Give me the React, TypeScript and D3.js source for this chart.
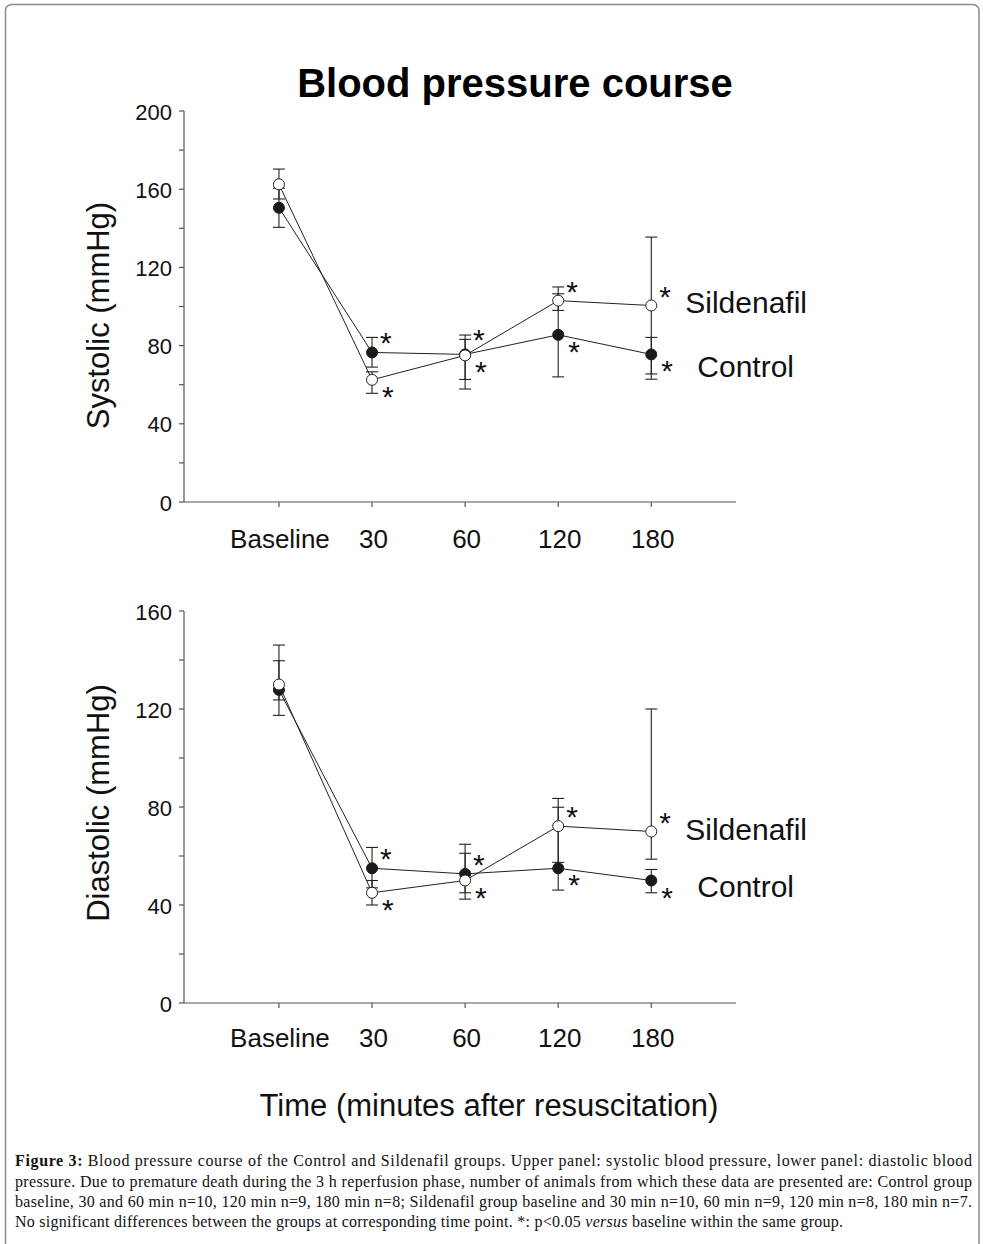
import React from 'react';
import * as d3 from 'd3';

const categories = ['Baseline', '30', '60', '120', '180'];

// systolic (mmHg): means and whisker ends
const sysControl = [150.5, 76.5, 75.5, 85.5, 75.5];
const sysControlHigh = [160.5, 84.2, 85.4, 106.5, 84.2];
const sysControlLow = [140.5, 69, 62.7, 64, 62.8];
const sysSild = [162.5, 62.5, 75, 103, 100.5];
const sysSildHigh = [170.3, 66.6, 83.2, 110, 135.5];
const sysSildLow = [155, 55.6, 57.8, 98, 65.5];

// diastolic (mmHg)
const diaControl = [127.8, 55, 52.7, 55, 50];
const diaControlHigh = [139.7, 63.5, 64.8, 79.9, 54.5];
const diaControlLow = [117.4, 47, 42.4, 46.1, 45];
const diaSild = [130, 45, 50, 72.2, 70];
const diaSildHigh = [146.1, 50, 61.1, 83.5, 120];
const diaSildLow = [123.7, 40, 45, 57.4, 58.7];

const sysTicks = [0, 40, 80, 120, 160, 200];
const diaTicks = [0, 40, 80, 120, 160];

const captionLines = [
  'Blood pressure course of the Control and Sildenafil groups. Upper panel: systolic blood pressure, lower panel: diastolic blood',
  'pressure. Due to premature death during the 3 h reperfusion phase, number of animals from which these data are presented are: Control group',
  'baseline, 30 and 60 min n=10, 120 min n=9, 180 min n=8; Sildenafil group baseline and 30 min n=10, 60 min n=9, 120 min n=8, 180 min n=7.',
];

const SANS = '"Liberation Sans", Arial, Helvetica, sans-serif';
const SERIF = '"Liberation Serif", "Times New Roman", serif';
const INK = '#222';
const AXIS = '#555';

interface Series {
  mean: number[];
  high: number[];
  low: number[];
}

interface PanelProps {
  top: number;
  bottom: number;
  yMax: number;
  labelTicks: number[];
  title: string;
  titleDy: number;
  control: Series;
  sild: Series;
  tickLabelDy: number;
  sildLabelDy: number;
  controlLabelDy: number;
}

const Panel: React.FC<PanelProps> = ({
  top, bottom, yMax, labelTicks, title, titleDy, control, sild, tickLabelDy, sildLabelDy, controlLabelDy,
}) => {
  const left = 184;
  const right = 736;
  const x = d3.scaleLinear().domain([-1.02, 4.91]).range([left, right]);
  const y = d3.scaleLinear().domain([0, yMax]).range([bottom, top]);
  const minorTicks = d3.range(0, yMax + 1, 20);

  const line = d3
    .line<number>()
    .x((_, i) => x(i))
    .y((d) => y(d));

  const bars = (s: Series, key: string) =>
    s.mean.map((_, i) => (
      <g key={`${key}-${i}`} stroke={INK} strokeWidth={1.1}>
        <line x1={x(i)} x2={x(i)} y1={y(s.high[i])} y2={y(s.low[i])} />
        <line x1={x(i) - 6} x2={x(i) + 6} y1={y(s.high[i])} y2={y(s.high[i])} />
        <line x1={x(i) - 6} x2={x(i) + 6} y1={y(s.low[i])} y2={y(s.low[i])} />
      </g>
    ));

  // asterisk above for the higher group, below for the lower one (not at baseline)
  const stars = (s: Series, other: Series, key: string) =>
    s.mean.map((v, i) => {
      if (i === 0) return null;
      const above = v >= other.mean[i];
      const tie = Math.abs(v - other.mean[i]) < 1.5;
      const dy = above ? (tie ? -20 : -15) : 11;
      return (
        <text
          key={`${key}-star-${i}`}
          x={x(i) + (above ? 8 : 10)}
          y={y(v) + dy + 16}
          fontFamily={SANS}
          fontSize={30}
          fill="#111"
        >
          *
        </text>
      );
    });

  const last = categories.length - 1;

  return (
    <g>
      {/* axes */}
      <line x1={left} x2={left} y1={top} y2={bottom} stroke={AXIS} strokeWidth={1.2} />
      <line x1={left} x2={right} y1={bottom} y2={bottom} stroke={AXIS} strokeWidth={1.2} />
      {minorTicks.map((t) => (
        <line key={`yt-${t}`} x1={left - 5} x2={left} y1={y(t)} y2={y(t)} stroke={AXIS} strokeWidth={1.2} />
      ))}
      {labelTicks.map((t) => (
        <text
          key={`yl-${t}`}
          x={172}
          y={y(t) + 1}
          textAnchor="end"
          dominantBaseline="central"
          fontFamily={SANS}
          fontSize={22}
          fill="#111"
        >
          {t}
        </text>
      ))}
      {categories.map((c, i) => (
        <g key={`xc-${c}`}>
          <line x1={x(i)} x2={x(i)} y1={bottom} y2={bottom + 5} stroke={AXIS} strokeWidth={1.2} />
          <text
            x={x(i) + (i === 0 ? 1 : 1.5)}
            y={bottom + tickLabelDy}
            textAnchor="middle"
            fontFamily={SANS}
            fontSize={26}
            fill="#111"
          >
            {c}
          </text>
        </g>
      ))}
      <text
        transform={`translate(109, ${(top + bottom) / 2 + titleDy}) rotate(-90)`}
        textAnchor="middle"
        fontFamily={SANS}
        fontSize={31}
        fill="#111"
      >
        {title}
      </text>

      {/* series */}
      {bars(control, 'c')}
      {bars(sild, 's')}
      <path d={line(control.mean) ?? ''} fill="none" stroke={INK} strokeWidth={1} />
      <path d={line(sild.mean) ?? ''} fill="none" stroke={INK} strokeWidth={1} />
      {control.mean.map((v, i) => (
        <circle key={`cm-${i}`} cx={x(i)} cy={y(v)} r={5.5} fill="#1a1a1a" stroke="#1a1a1a" strokeWidth={1} />
      ))}
      {sild.mean.map((v, i) => (
        <circle key={`sm-${i}`} cx={x(i)} cy={y(v)} r={5.5} fill="#fff" stroke={INK} strokeWidth={1} />
      ))}
      {stars(control, sild, 'c')}
      {stars(sild, control, 's')}

      <text
        x={x(last) + 34}
        y={y(sild.mean[last]) + sildLabelDy}
        dominantBaseline="central"
        fontFamily={SANS}
        fontSize={30}
        fill="#111"
      >
        Sildenafil
      </text>
      <text
        x={x(last) + 46}
        y={y(control.mean[last]) + controlLabelDy}
        dominantBaseline="central"
        fontFamily={SANS}
        fontSize={30}
        fill="#111"
      >
        Control
      </text>
    </g>
  );
};

const App: React.FC = () => {
  return (
    <div style={{ position: 'absolute', left: 0, top: 0 }}>
      <svg width={983} height={1244} style={{ display: 'block', background: '#fff' }}>
        <rect x={5.5} y={4.5} width={973.5} height={1260} rx={6} fill="#fff" stroke="#8a8a8a" strokeWidth={1.5} />

        <text x={515} y={97} textAnchor="middle" fontFamily={SANS} fontSize={40} fontWeight="bold" fill="#000">
          Blood pressure course
        </text>

        <Panel
          top={111}
          bottom={502}
          yMax={200}
          labelTicks={sysTicks}
          title="Systolic (mmHg)"
          titleDy={9}
          control={{ mean: sysControl, high: sysControlHigh, low: sysControlLow }}
          sild={{ mean: sysSild, high: sysSildHigh, low: sysSildLow }}
          tickLabelDy={46}
          sildLabelDy={-3}
          controlLabelDy={12}
        />
        <Panel
          top={611}
          bottom={1003}
          yMax={160}
          labelTicks={diaTicks}
          title="Diastolic (mmHg)"
          titleDy={-4}
          control={{ mean: diaControl, high: diaControlHigh, low: diaControlLow }}
          sild={{ mean: diaSild, high: diaSildHigh, low: diaSildLow }}
          tickLabelDy={44}
          sildLabelDy={-2}
          controlLabelDy={6}
        />

        <text x={489} y={1116} textAnchor="middle" fontFamily={SANS} fontSize={31} fill="#111">
          Time (minutes after resuscitation)
        </text>

        <g fontFamily={SERIF} fontSize={16} fill="#111">
          <text x={15} y={1166} textLength={957} lengthAdjust="spacing">
            <tspan fontWeight="bold">Figure 3:</tspan> {captionLines[0]}
          </text>
          <text x={15} y={1186.5} textLength={957} lengthAdjust="spacing">
            {captionLines[1]}
          </text>
          <text x={15} y={1206.5} textLength={957} lengthAdjust="spacing">
            {captionLines[2]}
          </text>
          <text x={15} y={1226.5} textLength={828} lengthAdjust="spacing">
            No significant differences between the groups at corresponding time point. *: p{'<'}0.05{' '}
            <tspan fontStyle="italic">versus</tspan> baseline within the same group.
          </text>
        </g>
      </svg>
    </div>
  );
};

export default App;
